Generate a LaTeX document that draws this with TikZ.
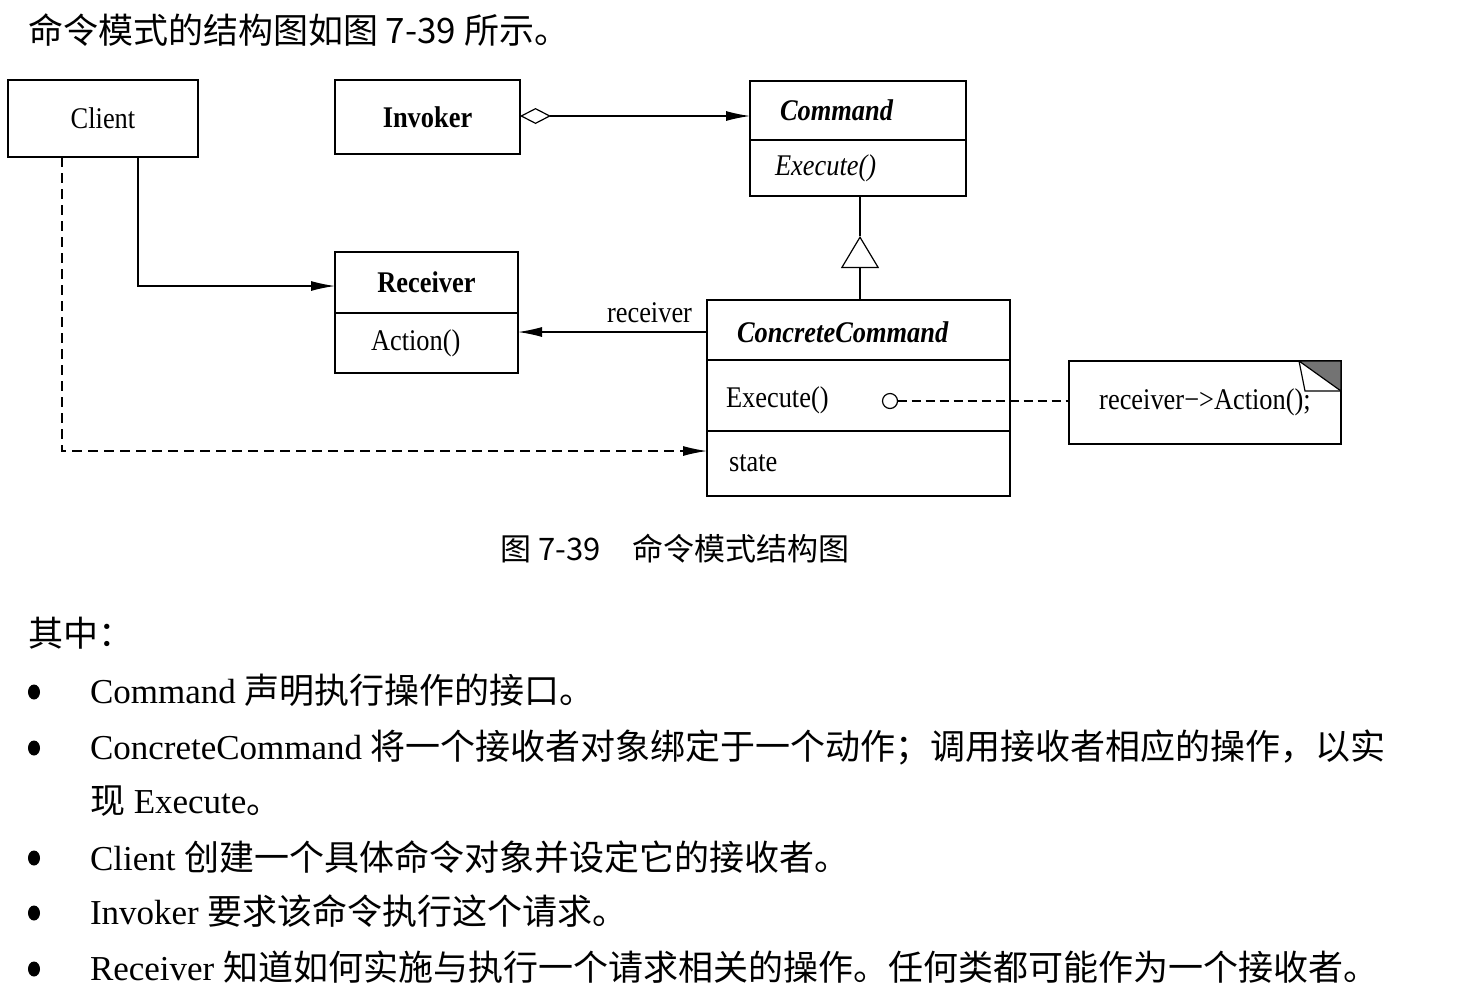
\documentclass[tikz,border=0pt]{standalone}
\usepackage{fontspec}
\setmainfont{Liberation Serif}
\newfontfamily\cjk{Noto Sans CJK SC}
\newfontfamily\umlfont[FakeStretch=0.88]{Liberation Serif}
\usetikzlibrary{arrows.meta,positioning}

\begin{document}
\begin{tikzpicture}[x=1pt, y=-1pt, line width=1.2pt, >={Latex[length=24pt,width=10pt]},
	every node/.style={inner sep=0pt, outer sep=0pt},
	umlbox/.style={draw, rectangle, font=\umlfont\fontsize{30}{36}\selectfont},
	uml/.style={font=\umlfont\fontsize{30}{36}\selectfont},
	dashline/.style={dash pattern=on 10pt off 6pt},
	body/.style={anchor=base west, font=\fontsize{35}{42}\selectfont},
	cjkbody/.style={anchor=base west, font=\cjk\fontsize{35}{42}\selectfont}]
	\useasboundingbox (0,0) rectangle (1480,997);
	\node[cjkbody] (title) at (28,43) {命令模式的结构图如图 7-39 所示。};
	\node[umlbox, minimum width=190pt, minimum height=77pt] (client) at (103,118.5) {Client};
	\node[umlbox, minimum width=185pt, minimum height=74pt] (invoker) at (427.5,117) {\bfseries Invoker};
	\node[umlbox, minimum width=216pt, minimum height=59pt] (cmd) at (858,110.5) {};
	\node[umlbox, minimum width=216pt, minimum height=56pt, below=0pt of cmd] (cmdop) {};
	\node[uml, anchor=west] (cmdname) at ([xshift=30pt]cmd.west) {\bfseries\itshape Command};
	\node[uml, anchor=west] (cmdexec) at ([xshift=25pt]cmdop.west) {\itshape Execute()};
	\node[umlbox, minimum width=183pt, minimum height=61pt] (rcv) at (426.5,282.5) {\bfseries Receiver};
	\node[umlbox, minimum width=183pt, minimum height=60pt, below=0pt of rcv] (rcvop) {};
	\node[uml, anchor=west] (rcvaction) at ([xshift=36pt]rcvop.west) {Action()};
	\node[umlbox, minimum width=303pt, minimum height=60pt] (cc) at (858.5,330) {};
	\node[umlbox, minimum width=303pt, minimum height=71pt, below=0pt of cc] (ccop) {};
	\node[umlbox, minimum width=303pt, minimum height=65pt, below=0pt of ccop] (ccattr) {};
	\node[uml, anchor=west] (ccname) at ([xshift=30pt, yshift=-2pt]cc.west) {\bfseries\itshape ConcreteCommand};
	\node[uml, anchor=west] (ccexec) at ([xshift=19pt, yshift=-5pt]ccop.west) {Execute()};
	\node[uml, anchor=west] (ccstate) at ([xshift=22pt]ccattr.west) {state};
	\node[circle, draw, minimum size=15pt] (hook) at ([xshift=31.5pt, yshift=-5.5pt]ccop.center) {};
	\node[umlbox, minimum width=272pt, minimum height=83pt] (note) at (1205,402.5) {receiver−>Action();};
	\filldraw[fill=black!55] ([xshift=-42pt]note.north east) -- (note.north east) -- ([yshift=-30pt]note.north east) -- cycle;
	\draw ([xshift=-42pt]note.north east) -- ([xshift=-36pt, yshift=-30pt]note.north east) -- ([yshift=-30pt]note.north east);
	\coordinate (tritip) at ([xshift=2pt, yshift=-40pt]cmdop.south);
	\draw[{Diamond[open,length=31pt,width=16pt]}->] ([yshift=1pt]invoker.east) -- ([yshift=1pt]invoker.east -| cmd.west);
	\draw[->] ([xshift=35pt]client.south) |- ([yshift=-3.5pt]rcv.west);
	\draw[->] ([yshift=-2pt]cc.west) -- ([yshift=-2pt]cc.west -| rcv.east);
	\node[uml, anchor=base east] (rcvlabel) at ([xshift=-15pt, yshift=8pt]cc.west) {receiver};
	\draw[-{Triangle[open,length=32pt,width=38pt]}] (cc.north -| tritip) -- (tritip);
	\draw (tritip) -- (tritip |- cmdop.south);
	\draw[->, dashline] ([xshift=-41pt]client.south) |- ([yshift=12.5pt]ccattr.west);
	\draw[dash pattern=on 9pt off 5pt] (hook.east) -- (hook.east -| note.west);
	\node[anchor=base, font=\cjk\fontsize{31}{37}\selectfont] (caption) at (675,560) {图 7-39　命令模式结构图};
	\node[cjkbody] (intro) at (28,646) {其中：};
	\foreach \y in {692,748,858,913,969} {\fill (34,\y) ellipse [x radius=6pt, y radius=7.5pt];}
	\node[body] (item1) at (90,703) {Command {\cjk 声明执行操作的接口。}};
	\node[body] (item2) at (90,759) {ConcreteCommand {\cjk 将一个接收者对象绑定于一个动作；调用接收者相应的操作，以实}};
	\node[body] (item2b) at (90,813) {{\cjk 现} Execute{\cjk 。}};
	\node[body] (item3) at (90,870) {Client {\cjk 创建一个具体命令对象并设定它的接收者。}};
	\node[body] (item4) at (90,924) {Invoker {\cjk 要求该命令执行这个请求。}};
	\node[body] (item5) at (90,980) {Receiver {\cjk 知道如何实施与执行一个请求相关的操作。任何类都可能作为一个接收者。}};
\end{tikzpicture}
\end{document}
